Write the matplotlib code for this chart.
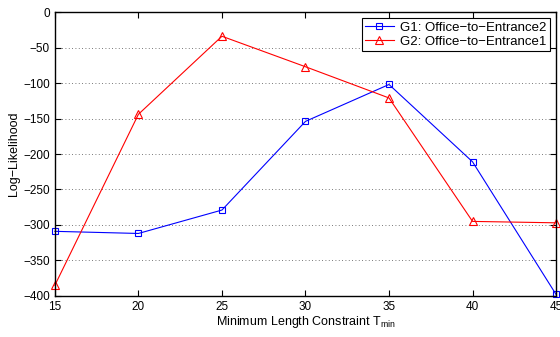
import matplotlib
matplotlib.use('Agg')
import matplotlib.pyplot as plt

plt.rcParams['font.family'] = ['Liberation Sans', 'DejaVu Sans']
plt.rcParams['mathtext.default'] = 'regular'

# data
t_min = [15, 20, 25, 30, 35, 40, 45]
g1_vals = [-309, -312, -279, -154, -102, -211, -398]
g2_vals = [-385, -144, -34, -77, -121, -295, -297]
g1_label = 'G1: Office\u2212to\u2212Entrance2'
g2_label = 'G2: Office\u2212to\u2212Entrance1'

fig = plt.figure(figsize=(5.6, 3.37), dpi=100)
ax = fig.add_axes([0.098, 0.122, 0.895, 0.842])

ax.plot(t_min, g1_vals, color='blue', lw=0.8, marker='s', ms=5,
        mfc='none', mec='blue', mew=0.8, label=g1_label, clip_on=False)
ax.plot(t_min, g2_vals, color='red', lw=0.8, marker='^', ms=6,
        mfc='none', mec='red', mew=0.8, label=g2_label, clip_on=False)

ax.set_xlim(15, 45)
ax.set_ylim(-400, 0)
ax.set_xticks(t_min)
ax.set_yticks(range(-400, 1, 50))
ax.tick_params(direction='in', top=True, right=True, labelsize=8.5, length=4, width=0.8)
ax.yaxis.grid(True, linestyle=(0, (1, 3)), color='0.3', lw=0.6)
for s in ax.spines.values():
    s.set_linewidth(1.0)

ax.set_xlabel('Minimum Length Constraint T$_{min}$', fontsize=9, labelpad=1)
ax.set_ylabel('Log\u2212Likelihood', fontsize=9, labelpad=2)

leg = ax.legend(loc='upper right', fontsize=9.5, fancybox=False, framealpha=1,
                edgecolor='black', borderaxespad=0.45, handlelength=2.2,
                borderpad=0.25, labelspacing=0.15, handletextpad=0.5)
leg.get_frame().set_linewidth(0.8)

fig.savefig('out.png', dpi=100)
